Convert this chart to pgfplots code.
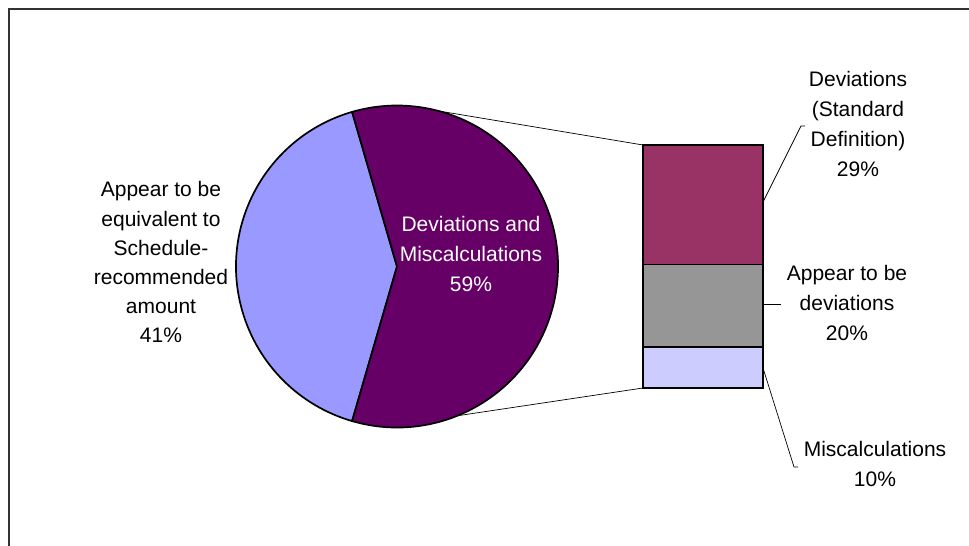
\documentclass[border=0pt]{standalone}
\usepackage{fontspec}
\setmainfont{Liberation Sans}
\usepackage{pgfplots}
\pgfplotsset{compat=1.18}

\definecolor{pielight}{HTML}{9999FF}
\definecolor{piedark}{HTML}{660066}
\definecolor{barstd}{HTML}{993366}
\definecolor{bargray}{HTML}{969696}
\definecolor{barmisc}{HTML}{CCCCFF}

% pie: share of "Deviations and Miscalculations" (the rest is 41%)
\def\pieDev{59}

\tikzset{
    lbl/.style={anchor=base, inner sep=0pt, font=\fontsize{21bp}{29.5bp}\selectfont},
    leader/.style={draw=black, line width=0.7bp},
}

\begin{document}
\begin{tikzpicture}
\pgfmathsetmacro{\half}{\pieDev*3.6/2}
\pgfmathsetmacro{\other}{360-\half}
\begin{axis}[
    name=main,
    hide axis,
    scale only axis,
    width=969bp, height=546bp,
    xmin=0, xmax=969, ymin=0, ymax=546,
    clip=false,
    ]
    % chart frame
    \draw[line width=2bp, black!80] (axis cs:9,0) -- (axis cs:9,537) -- (axis cs:969,537);

    % pie slices
    \filldraw[fill=pielight, draw=black, line width=1.7bp, line join=round]
        (axis cs:397,279.5) -- ++(\half:161bp) arc[start angle=\half, end angle=\other, radius=161bp] -- cycle;
    \filldraw[fill=piedark, draw=black, line width=1.7bp, line join=round]
        (axis cs:397,279.5) -- ++(-\half:161bp) arc[start angle=-\half, end angle=\half, radius=161bp] -- cycle;

    % connector lines pie -> bar
    \draw[leader] (axis cs:397,279.5) ++(75:161bp) -- (axis cs:643,401);
    \draw[leader] (axis cs:397,279.5) ++(-68:161bp) -- (axis cs:643,158);

    % pie labels
    \node[lbl] at (axis cs:161,349) {Appear to be};
    \node[lbl] at (axis cs:161,319) {equivalent to};
    \node[lbl] at (axis cs:161,290) {Schedule-};
    \node[lbl] at (axis cs:161,261) {recommended};
    \node[lbl] at (axis cs:161,232) {amount};
    \node[lbl] at (axis cs:161,203) {41\%};

    \node[lbl, white] at (axis cs:471,314) {Deviations and};
    \node[lbl, white] at (axis cs:471,284) {Miscalculations};
    \node[lbl, white] at (axis cs:471,254) {59\%};

    % bar labels
    \draw[leader] (axis cs:763,344) -- (axis cs:801,420) -- (axis cs:805,420);
    \node[lbl] at (axis cs:858,459) {Deviations};
    \node[lbl] at (axis cs:858,429) {(Standard};
    \node[lbl] at (axis cs:858,399) {Definition)};
    \node[lbl] at (axis cs:858,369) {29\%};

    \draw[leader] (axis cs:763,242) -- (axis cs:781,242);
    \node[lbl] at (axis cs:847,265) {Appear to be};
    \node[lbl] at (axis cs:847,235) {deviations};
    \node[lbl] at (axis cs:847,205) {20\%};

    \draw[leader] (axis cs:763,178) -- (axis cs:794,79) -- (axis cs:798,79);
    \node[lbl] at (axis cs:875,89) {Miscalculations};
    \node[lbl] at (axis cs:875,59) {10\%};
\end{axis}

% breakdown bar of the 59%
\begin{axis}[
    at={(643bp,158bp)}, anchor=origin,
    hide axis,
    scale only axis,
    width=120bp, height=243bp,
    xmin=0, xmax=1, ymin=0, ymax=59,
    ybar stacked,
    bar width=120bp,
    clip=false,
    every axis plot/.append style={draw=black, line width=1.5bp},
    ]
    \addplot[fill=barmisc] coordinates {(0.5,10)};
    \addplot[fill=bargray] coordinates {(0.5,20)};
    \addplot[fill=barstd] coordinates {(0.5,29)};
\end{axis}

\pgfresetboundingbox
\path (0,0) rectangle (969bp,546bp);
\end{tikzpicture}
\end{document}
